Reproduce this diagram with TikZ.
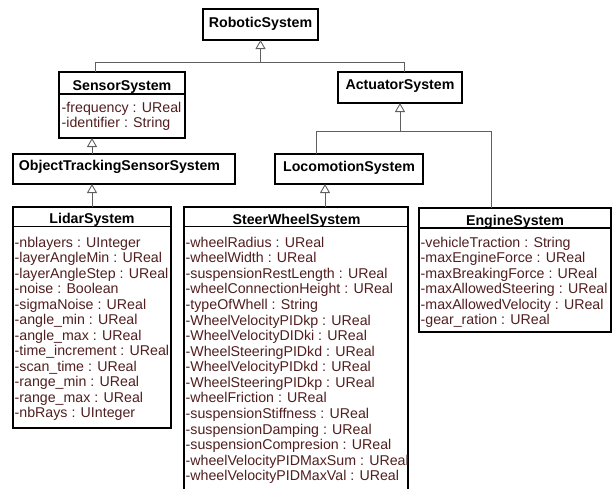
\documentclass[tikz,border=0pt]{standalone}
\usepackage{fontspec}
\setmainfont{Liberation Sans}
\usetikzlibrary{arrows.meta}
\definecolor{attrtext}{RGB}{80,30,30}
\definecolor{linkgray}{RGB}{95,95,95}
\begin{document}
\begin{tikzpicture}[x=1pt,y=-1pt,
  classbox/.style={draw=black, line width=1.1pt, rectangle, inner sep=0pt, outer sep=0pt, anchor=north west},
  classname/.style={font=\fontsize{14.2}{16}\selectfont\bfseries, inner sep=0pt, anchor=base},
  attr/.style={font=\fontsize{14.2}{16}\selectfont, text=attrtext, inner sep=0pt, anchor=base west},
  sepline/.style={draw=black, line width=1.1pt},
  inherit/.style={draw=linkgray, line width=0.9pt, -{Triangle[open, width=10pt, length=9pt, line width=0.9pt]}},
  link/.style={draw=linkgray, line width=0.9pt}]
\useasboundingbox (0,0) rectangle (612,488);
\clip (0,0) rectangle (612,488);

% class boxes
\node[classbox, minimum width=115pt, minimum height=31pt] (rob) at (203,9) {};
\node[classbox, minimum width=126pt, minimum height=66pt] (sen) at (59,72) {};
\node[classbox, minimum width=124pt, minimum height=31pt] (act) at (338,72) {};
\node[classbox, minimum width=222pt, minimum height=30pt] (ots) at (13,154) {};
\node[classbox, minimum width=148pt, minimum height=30pt] (loc) at (275,154) {};
\node[classbox, minimum width=158pt, minimum height=221pt] (lid) at (13,207) {};
\node[classbox, minimum width=224pt, minimum height=300pt] (stw) at (184,207) {};
\node[classbox, minimum width=192pt, minimum height=124pt] (eng) at (419,208) {};

% compartment separators
\draw[sepline] ([yshift=-22pt]sen.north west) -- ([yshift=-22pt]sen.north east);
\draw[sepline] ([yshift=-19.5pt]lid.north west) -- ([yshift=-19.5pt]lid.north east);
\draw[sepline] ([yshift=-19.5pt]stw.north west) -- ([yshift=-19.5pt]stw.north east);
\draw[sepline] ([yshift=-20pt]eng.north west) -- ([yshift=-20pt]eng.north east);

% class names
\node[classname] (robt) at (260.5,27) {RoboticSystem};
\node[classname] (sent) at (122,90.5) {SensorSystem};
\node[classname] (actt) at (400,89.3) {ActuatorSystem};
\node[classname] (otst) at (119.5,170) {ObjectTrackingSensorSystem};
\node[classname] (loct) at (349,171) {LocomotionSystem};
\node[classname] (lidt) at (92,223.5) {LidarSystem};
\node[classname] (stwt) at (296.5,224) {SteerWheelSystem};
\node[classname] (engt) at (515,225) {EngineSystem};

% attributes
\foreach \t [count=\i] in {-frequency : UReal, -identifier : String}
  \node[attr] (sen-a\i) at (61.5,{112.3+15.4*(\i-1)}) {\t};

\foreach \t [count=\i] in {-nblayers : UInteger, -layerAngleMin : UReal,
  -layerAngleStep : UReal, -noise : Boolean, -sigmaNoise : UReal,
  -angle\_min : UReal, -angle\_max : UReal, -time\_increment : UReal,
  -scan\_time : UReal, -range\_min : UReal, -range\_max : UReal,
  -nbRays : UInteger}
  \node[attr] (lid-a\i) at (14.5,{247+15.5*(\i-1)}) {\t};

\foreach \t [count=\i] in {-wheelRadius : UReal, -wheelWidth : UReal,
  -suspensionRestLength : UReal, -wheelConnectionHeight : UReal,
  -typeOfWhell : String, -WheelVelocityPIDkp : UReal,
  -WheelVelocityDIDki : UReal, -WheelSteeringPIDkd : UReal,
  -WheelVelocityPIDkd : UReal, -WheelSteeringPIDkp : UReal,
  -wheelFriction : UReal, -suspensionStiffness : UReal,
  -suspensionDamping : UReal, -suspensionCompresion : UReal,
  -wheelVelocityPIDMaxSum : UReal, -wheelVelocityPIDMaxVal : UReal}
  \node[attr] (stw-a\i) at (185.5,{247.3+15.56*(\i-1)}) {\t};

\foreach \t [count=\i] in {-vehicleTraction : String, -maxEngineForce : UReal,
  -maxBreakingForce : UReal, -maxAllowedSteering : UReal,
  -maxAllowedVelocity : UReal, -gear\_ration : UReal}
  \node[attr] (eng-a\i) at (420.5,{247.3+15.5*(\i-1)}) {\t};

% generalisations
\coordinate (j1) at (260.5,62);
\coordinate (j2) at (400,131.5);
\coordinate (senin) at ([xshift=-27pt]sen.north);
\coordinate (actin) at ([xshift=4pt]act.north);
\coordinate (locin) at ([xshift=-33pt]loc.north);
\coordinate (engin) at ([xshift=-24pt]eng.north);
\coordinate (stwin) at ([xshift=29pt]stw.north);

\draw[inherit] (senin) |- (j1) -- (rob.south);
\draw[link] (actin) |- (j1);
\draw[inherit] (ots.north -| lid.north) -- (sen.south -| lid.north);
\draw[inherit] (lid.north) -- (ots.south -| lid.north);
\draw[inherit] (locin) |- (j2) -- (act.south);
\draw[link] (engin) |- (j2);
\draw[inherit] (stwin) -- (stwin |- loc.south);
\end{tikzpicture}
\end{document}
